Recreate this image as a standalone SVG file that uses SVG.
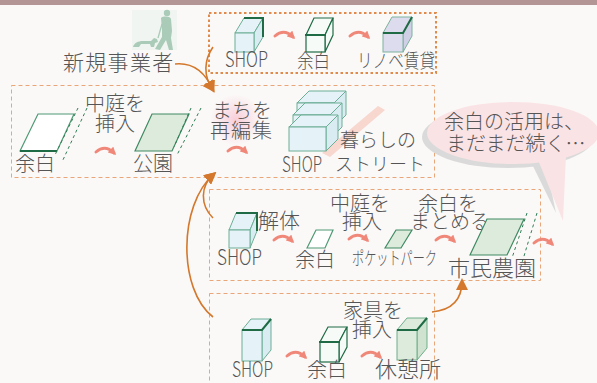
<svg xmlns="http://www.w3.org/2000/svg" width="597" height="383" viewBox="0 0 597 383">
  <defs>
    <style>
      .t { font-family: "Noto Sans CJK JP", "Noto Sans", sans-serif; font-weight: 300; fill: #555555; }
      .frameA { fill: none; stroke: #e08b4c; stroke-width: 2; stroke-dasharray: 2.5 2.5; }
      .frameB { fill: none; stroke: #e9a678; stroke-width: 1; stroke-dasharray: 4 3; }
      .flow { fill: none; stroke: #d3782c; stroke-width: 1.6; marker-end: url(#arrowOrange); }
      .step { fill: none; stroke: #f0887a; stroke-width: 3; stroke-linecap: round; marker-end: url(#arrowSalmon); }
      .blue { fill: #e5f3f8; stroke: #6cae96; stroke-width: 1; }
      .blueside { fill: #d9ecf2; stroke: #6cae96; stroke-width: 1; }
      .lav { fill: #dcdcee; stroke: #7cb29c; stroke-width: 1; }
      .lavside { fill: #cfcfe6; stroke: #7cb29c; stroke-width: 1; }
      .empty { fill: #f6fbf7; stroke: #1f6b45; stroke-width: 1.2; }
      .green { fill: #dcebdc; stroke: #6fae8a; stroke-width: 1; }
      .greenside { fill: #cfe3d0; stroke: #6fae8a; stroke-width: 1; }
      .dark { stroke: #1f6b45; stroke-width: 2; fill: none; }
      .lot { fill: #ffffff; stroke: #4f9a74; stroke-width: 1.2; }
      .park { fill: #dcebdc; stroke: #3f8a62; stroke-width: 1.2; }
      .hint { fill: none; stroke: #2f7f55; stroke-width: 1; stroke-dasharray: 3 3; }
      .walk { fill: #a9cbb8; }
    </style>
    <marker id="arrowOrange" markerUnits="userSpaceOnUse" markerWidth="12" markerHeight="12" refX="9" refY="6" orient="auto">
      <path d="M0,0 L12,6 L0,12 z" fill="#d3782c"/>
    </marker>
    <marker id="arrowSalmon" markerUnits="userSpaceOnUse" markerWidth="8" markerHeight="8" refX="5" refY="4" orient="auto">
      <path d="M0,0 L8,4 L0,8 z" fill="#f0887a"/>
    </marker>
    <radialGradient id="glow" cx="0.5" cy="0.5" r="0.5">
      <stop offset="0" stop-color="#f7c9d6" stop-opacity="0.9"/>
      <stop offset="1" stop-color="#f7c9d6" stop-opacity="0"/>
    </radialGradient>
  </defs>

  <!-- page -->
  <rect x="0" y="0" width="597" height="383" fill="#fbf9f8"/>
  <rect x="0" y="0" width="597" height="5" fill="#b49595"/>

  <!-- walker with dog -->
  <g id="walker">
    <rect x="132" y="10" width="45" height="40" fill="#f1f5f1"/>
    <circle class="walk" cx="167" cy="13" r="3.2"/>
    <path class="walk" d="M161,18 C163,16 170,16 171,19 L172,31 L171,38 L173,50 L169,50 L166,40 L160,50 L155,49 L162,37 L162,30 Z"/>
    <path d="M162,24 L158,38" stroke="#a9cbb8" stroke-width="1.3" fill="none"/>
    <path class="walk" d="M133,47 C134,43 138,41 143,41 L151,41 L154,38 L157,39 L158,42 L155,43 L154,47 L151,47 L150,44 L141,44 L139,47 Z"/>
  </g>

  <!-- frames -->
  <g id="frames">
    <rect class="frameA" x="209" y="13" width="227" height="60"/>
    <rect class="frameB" x="11.5" y="85.5" width="423" height="92"/>
    <rect class="frameB" x="209.5" y="189.5" width="331" height="91"/>
    <rect class="frameB" x="209.5" y="293.5" width="225" height="95"/>
  </g>

  <!-- connectors -->
  <g id="connectors">
    <path class="flow" d="M175,64 C195,62 206,74 213,90"/>
    <path class="flow" d="M213,47 C204,60 203,76 213,90"/>
    <path class="flow" d="M213,218 C200,205 200,186 214,174"/>
    <path class="flow" d="M213,317 C178,290 178,205 214,174"/>
    <path class="flow" d="M432,312 C452,310 462,300 462,281"/>

    <path class="step" d="M275,36 Q284,28 293,37"/>
    <path class="step" d="M350,36 Q359,28 368,37"/>
    <path class="step" d="M96,152 Q105,144 114,153"/>
    <path class="step" d="M228,151 Q237,143 246,152"/>
    <path class="step" d="M274,240 Q283,232 292,241"/>
    <path class="step" d="M349,239 Q358,231 367,240"/>
    <path class="step" d="M436,240 Q445,232 454,241"/>
    <path class="step" d="M534,243 Q543,235 552,244"/>
    <path class="step" d="M287,356 Q296,348 305,357"/>
    <path class="step" d="M362,356 Q371,348 380,357"/>
  </g>

  <!-- top row -->
  <g id="new-business">
    <text class="t" x="63" y="70" font-size="21" letter-spacing="1.3">新規事業者</text>
  </g>
  <g id="shop-top">
    <polygon class="blue" points="235,33 254,33 263,18 244,18"/>
    <polygon class="blueside" points="254,33 263,18 263,37 254,52"/>
    <rect class="blue" x="235" y="33" width="19" height="19"/>
    <path class="dark" d="M244,18 L263,18 L263,37" stroke-width="1.5"/>
    <text class="t" x="225" y="67" font-size="21" textLength="43" lengthAdjust="spacingAndGlyphs">SHOP</text>
  </g>
  <g id="vacant-top">
    <polygon class="empty" points="306,35 325,35 333,18 314,18"/>
    <polygon class="empty" points="325,35 333,18 333,35 325,52"/>
    <rect class="empty" x="306" y="35" width="19" height="17"/>
    <path class="dark" d="M305,35 L326,35" stroke-width="2.5"/>
    <text class="t" x="297" y="68" font-size="19" textLength="33" lengthAdjust="spacingAndGlyphs">余白</text>
  </g>
  <g id="renovation">
    <polygon class="lav" points="383,33 403,33 412,17 392,17"/>
    <polygon class="lavside" points="403,33 412,17 412,36 403,52"/>
    <rect class="lav" x="383" y="33" width="20" height="19"/>
    <path class="dark" d="M383,33 L403,33 L412,17" stroke-width="1.4"/>
    <text class="t" x="357" y="68" font-size="19" textLength="78" lengthAdjust="spacingAndGlyphs">リノベ賃貸</text>
  </g>

  <!-- middle row -->
  <g id="lot-middle">
    <polygon class="lot" points="20,151 38,114 74,114 57,151"/>
    <path class="dark" d="M20,151 L57,151" stroke-width="1.6"/>
    <path class="hint" d="M78,108 L55,155"/>
    <path class="hint" d="M87,108 L62,162"/>
    <text class="t" x="15" y="171" font-size="20">余白</text>
  </g>
  <g id="courtyard">
    <text class="t" x="85" y="111" font-size="20">中庭を</text>
    <text class="t" x="95" y="131" font-size="20">挿入</text>
  </g>
  <g id="park">
    <polygon class="park" points="135,151 152,114 189,114 172,151"/>
    <path class="hint" d="M191,108 L174,147"/>
    <path class="hint" d="M201,108 L177,155"/>
    <text class="t" x="133" y="171" font-size="20">公園</text>
  </g>
  <g id="reedit">
    <circle cx="236" cy="120" r="26" fill="url(#glow)"/>
    <text class="t" x="212" y="118" font-size="20">まちを</text>
    <text class="t" x="210" y="138" font-size="20" letter-spacing="1">再編集</text>
  </g>
  <g id="street">
    <polygon points="378,106 385,110 330,157 322,153" fill="#f8d7cf"/>
    <!-- stacked shop units -->
    <polygon class="blue" points="297,103 334,103 346,91 309,91"/>
    <polygon class="blueside" points="334,103 346,91 346,115 334,127"/>
    <rect class="blue" x="297" y="103" width="37" height="12"/>
    <polygon class="blue" points="293,115 330,115 342,103 305,103"/>
    <polygon class="blueside" points="330,115 342,103 342,127 330,139"/>
    <rect class="blue" x="293" y="115" width="37" height="12"/>
    <polygon class="blue" points="289,127 326,127 338,115 301,115"/>
    <polygon class="blueside" points="326,127 338,115 338,139 326,151"/>
    <rect class="blue" x="289" y="127" width="37" height="24"/>
    <text class="t" x="282" y="172" font-size="21" textLength="40" lengthAdjust="spacingAndGlyphs">SHOP</text>
    <text class="t" x="340" y="147" font-size="19">暮らしの</text>
    <text class="t" x="335" y="171" font-size="18">ストリート</text>
  </g>

  <!-- speech bubble -->
  <g id="bubble">
    <ellipse cx="508" cy="137" rx="86" ry="31" fill="#dadada"/>
    <polygon points="530,160 545,160 556,213" fill="#dadada"/>
    <ellipse cx="513" cy="133" rx="86" ry="31" fill="#fae3e5"/>
    <polygon points="536,155 566,155 563,221" fill="#fae3e5"/>
    <text class="t" x="444" y="129" font-size="20">余白の活用は、</text>
    <text class="t" x="446" y="151" font-size="20">まだまだ続く…</text>
  </g>

  <!-- third row -->
  <g id="shop-demolish">
    <polygon class="blue" points="229,230 250,230 257,213 236,213"/>
    <polygon class="blueside" points="250,230 257,213 257,231 250,248"/>
    <rect class="blue" x="229" y="230" width="21" height="18"/>
    <path class="dark" d="M236,213 L257,213 L257,231" stroke-width="1.5"/>
    <text class="t" x="258" y="228" font-size="21">解体</text>
    <text class="t" x="217" y="265" font-size="21" textLength="45" lengthAdjust="spacingAndGlyphs">SHOP</text>
  </g>
  <g id="lot-third">
    <polygon class="lot" points="307,248 316,230 333,230 325,248"/>
    <text class="t" x="295" y="267" font-size="20">余白</text>
  </g>
  <g id="pocket-park">
    <text class="t" x="330" y="211" font-size="20">中庭を</text>
    <text class="t" x="342" y="229" font-size="20">挿入</text>
    <polygon class="park" points="385,248 396,230 412,230 401,248"/>
    <text class="t" x="352" y="265" font-size="18" textLength="85" lengthAdjust="spacingAndGlyphs">ポケットパーク</text>
  </g>
  <g id="farm">
    <text class="t" x="418" y="211" font-size="20">余白を</text>
    <text class="t" x="410" y="229" font-size="20">まとめる</text>
    <polygon class="park" points="470,255 487,219 524,219 507,255"/>
    <path class="hint" d="M527,213 L512,258"/>
    <path class="hint" d="M537,213 L521,266"/>
    <text class="t" x="448" y="276" font-size="22">市民農園</text>
  </g>

  <!-- bottom row -->
  <g id="shop-bottom">
    <polygon class="blue" points="242,330 262,330 271,319 251,319"/>
    <polygon class="blueside" points="262,330 271,319 271,350 262,361"/>
    <rect class="blue" x="242" y="330" width="20" height="31"/>
    <path class="dark" d="M242,330 L262,330 L271,319" stroke-width="1.4"/>
    <text class="t" x="232" y="377" font-size="21" textLength="41" lengthAdjust="spacingAndGlyphs">SHOP</text>
  </g>
  <g id="vacant-bottom">
    <polygon class="empty" points="320,342 339,342 347,327 328,327"/>
    <polygon class="empty" points="339,342 347,327 347,347 339,362"/>
    <rect class="empty" x="320" y="342" width="19" height="20"/>
    <path class="dark" d="M319,342 L340,342" stroke-width="2.5"/>
    <text class="t" x="307" y="377" font-size="20">余白</text>
  </g>
  <g id="furniture">
    <text class="t" x="343" y="318" font-size="20">家具を</text>
    <text class="t" x="352" y="337" font-size="20">挿入</text>
  </g>
  <g id="rest-area">
    <polygon class="green" points="397,330 417,330 427,318 407,318"/>
    <polygon class="greenside" points="417,330 427,318 427,348 417,360"/>
    <rect class="green" x="397" y="330" width="20" height="30"/>
    <path class="dark" d="M397,330 L417,330 L427,318" stroke-width="1.4"/>
    <text class="t" x="375" y="377" font-size="22">休憩所</text>
  </g>
</svg>
